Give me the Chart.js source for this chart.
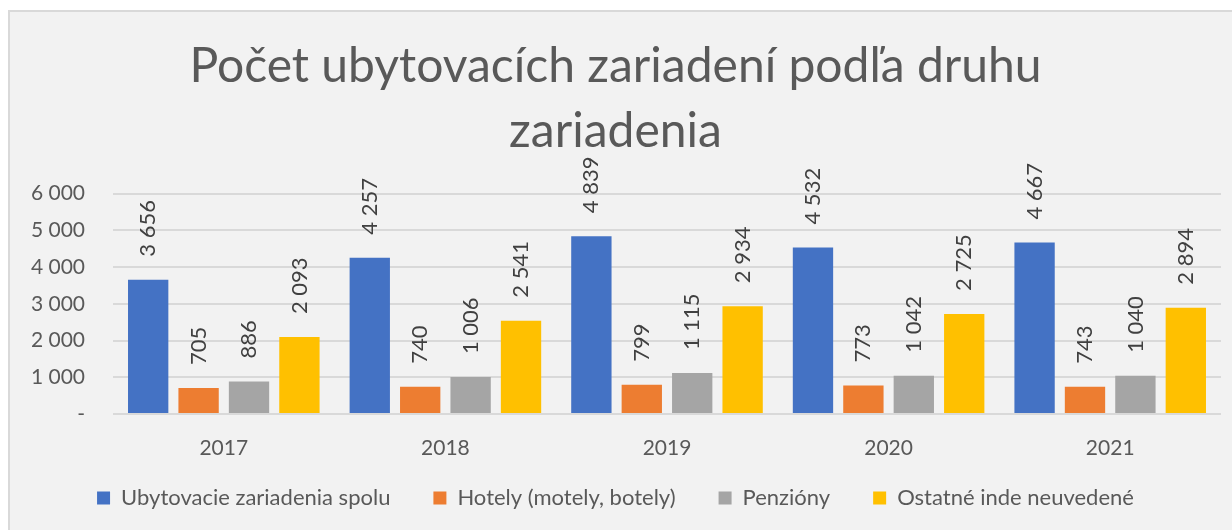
<!DOCTYPE html>
<html lang="sk">
<head>
<meta charset="utf-8">
<script src="https://cdn.jsdelivr.net/npm/chart.js"></script>
<style>
    html, body { margin: 0; padding: 0; background: #ffffff; overflow: hidden; }
    #frame {
        position: absolute;
        left: 8px;
        top: 10px;
        width: 1230px;
        height: 545px;
        background: #f2f2f2;
        border-top: 2px solid #d9d9d9;
        border-left: 2px solid #d9d9d9;
    }
    #wrap { position: absolute; left: 0; top: 0; width: 1222px; height: 539px; }
</style>
</head>
<body>
<div id="frame"><div id="wrap"><canvas id="ubytovanieChart"></canvas></div></div>
<script>
// údaje z grafu
const roky = ['2017', '2018', '2019', '2020', '2021'];
const spolu = [3656, 4257, 4839, 4532, 4667];
const hotely = [705, 740, 799, 773, 743];
const penziony = [886, 1006, 1115, 1042, 1040];
const ostatne = [2093, 2541, 2934, 2725, 2894];
const nazvySerii = ['Ubytovacie zariadenia spolu', 'Hotely (motely, botely)', 'Penzióny', 'Ostatné inde neuvedené'];
const yTicks = [0, 1000, 2000, 3000, 4000, 5000, 6000];

const FONT = 'Lato, "Open Sans", sans-serif';

function formatCislo(v) {
    if (v === 0) return '-';
    return String(v).replace(/\B(?=(\d{3})+(?!\d))/g, ' ');
}

// popisky hodnôt otočené o 90°
const popiskyPlugin = {
    id: 'popisky',
    afterLayout(chart) {
        // os x je zúžená, aby legenda sedela - rozšírime orezanie popiskov
        chart.scales.x.bottom += 25;
    },
    afterDatasetsDraw(chart) {
        const ctx = chart.ctx;
        ctx.save();
        ctx.font = '22px ' + FONT;
        ctx.fillStyle = '#404040';
        ctx.textAlign = 'left';
        ctx.textBaseline = 'middle';
        chart.data.datasets.forEach(function (ds, i) {
            const meta = chart.getDatasetMeta(i);
            meta.data.forEach(function (bar, j) {
                ctx.save();
                ctx.translate(bar.x, bar.y - 23);
                ctx.rotate(-Math.PI / 2);
                ctx.fillText(formatCislo(ds.data[j]), 0, 0);
                ctx.restore();
            });
        });
        ctx.restore();
    }
};

function dataset(label, data, color) {
    return {
        label: label,
        data: data,
        backgroundColor: color,
        borderWidth: 0,
        barPercentage: 0.8,
        categoryPercentage: 0.91
    };
}

new Chart(document.getElementById('ubytovanieChart'), {
    type: 'bar',
    data: {
        labels: roky,
        datasets: [
            dataset(nazvySerii[0], spolu, '#4472c4'),
            dataset(nazvySerii[1], hotely, '#ed7d31'),
            dataset(nazvySerii[2], penziony, '#a5a5a5'),
            dataset(nazvySerii[3], ostatne, '#ffc000')
        ]
    },
    options: {
        responsive: true,
        maintainAspectRatio: false,
        animation: false,
        layout: { padding: { left: 0, right: 11, top: 22, bottom: 32 } },
        scales: {
            x: {
                afterFit: function (scale) { scale.height = 30; },
                grid: { display: false },
                border: { display: false },
                ticks: { color: '#595959', font: { family: FONT, size: 21 }, padding: 14 }
            },
            y: {
                min: 0,
                max: 6000,
                afterFit: function (scale) { scale.width = 103; },
                afterBuildTicks: function (scale) {
                    scale.ticks = yTicks.map(function (v) { return { value: v }; });
                },
                grid: { color: '#d9d9d9', lineWidth: 2, drawTicks: false },
                border: { display: false },
                ticks: {
                    color: '#595959',
                    font: { family: FONT, size: 21 },
                    padding: 28,
                    callback: function (v) { return formatCislo(v); }
                }
            }
        },
        plugins: {
            title: {
                display: true,
                text: ['Počet ubytovacích zariadení podľa druhu', 'zariadenia'],
                color: '#595959',
                font: { family: FONT, size: 48, weight: 'normal', lineHeight: 1.35 },
                padding: { top: 0, bottom: 30 }
            },
            legend: {
                position: 'bottom',
                labels: {
                    color: '#595959',
                    font: { family: FONT, size: 22 },
                    boxWidth: 13,
                    boxHeight: 13,
                    padding: 43
                }
            },
            tooltip: { enabled: false }
        }
    },
    plugins: [popiskyPlugin]
});
</script>
</body>
</html>
